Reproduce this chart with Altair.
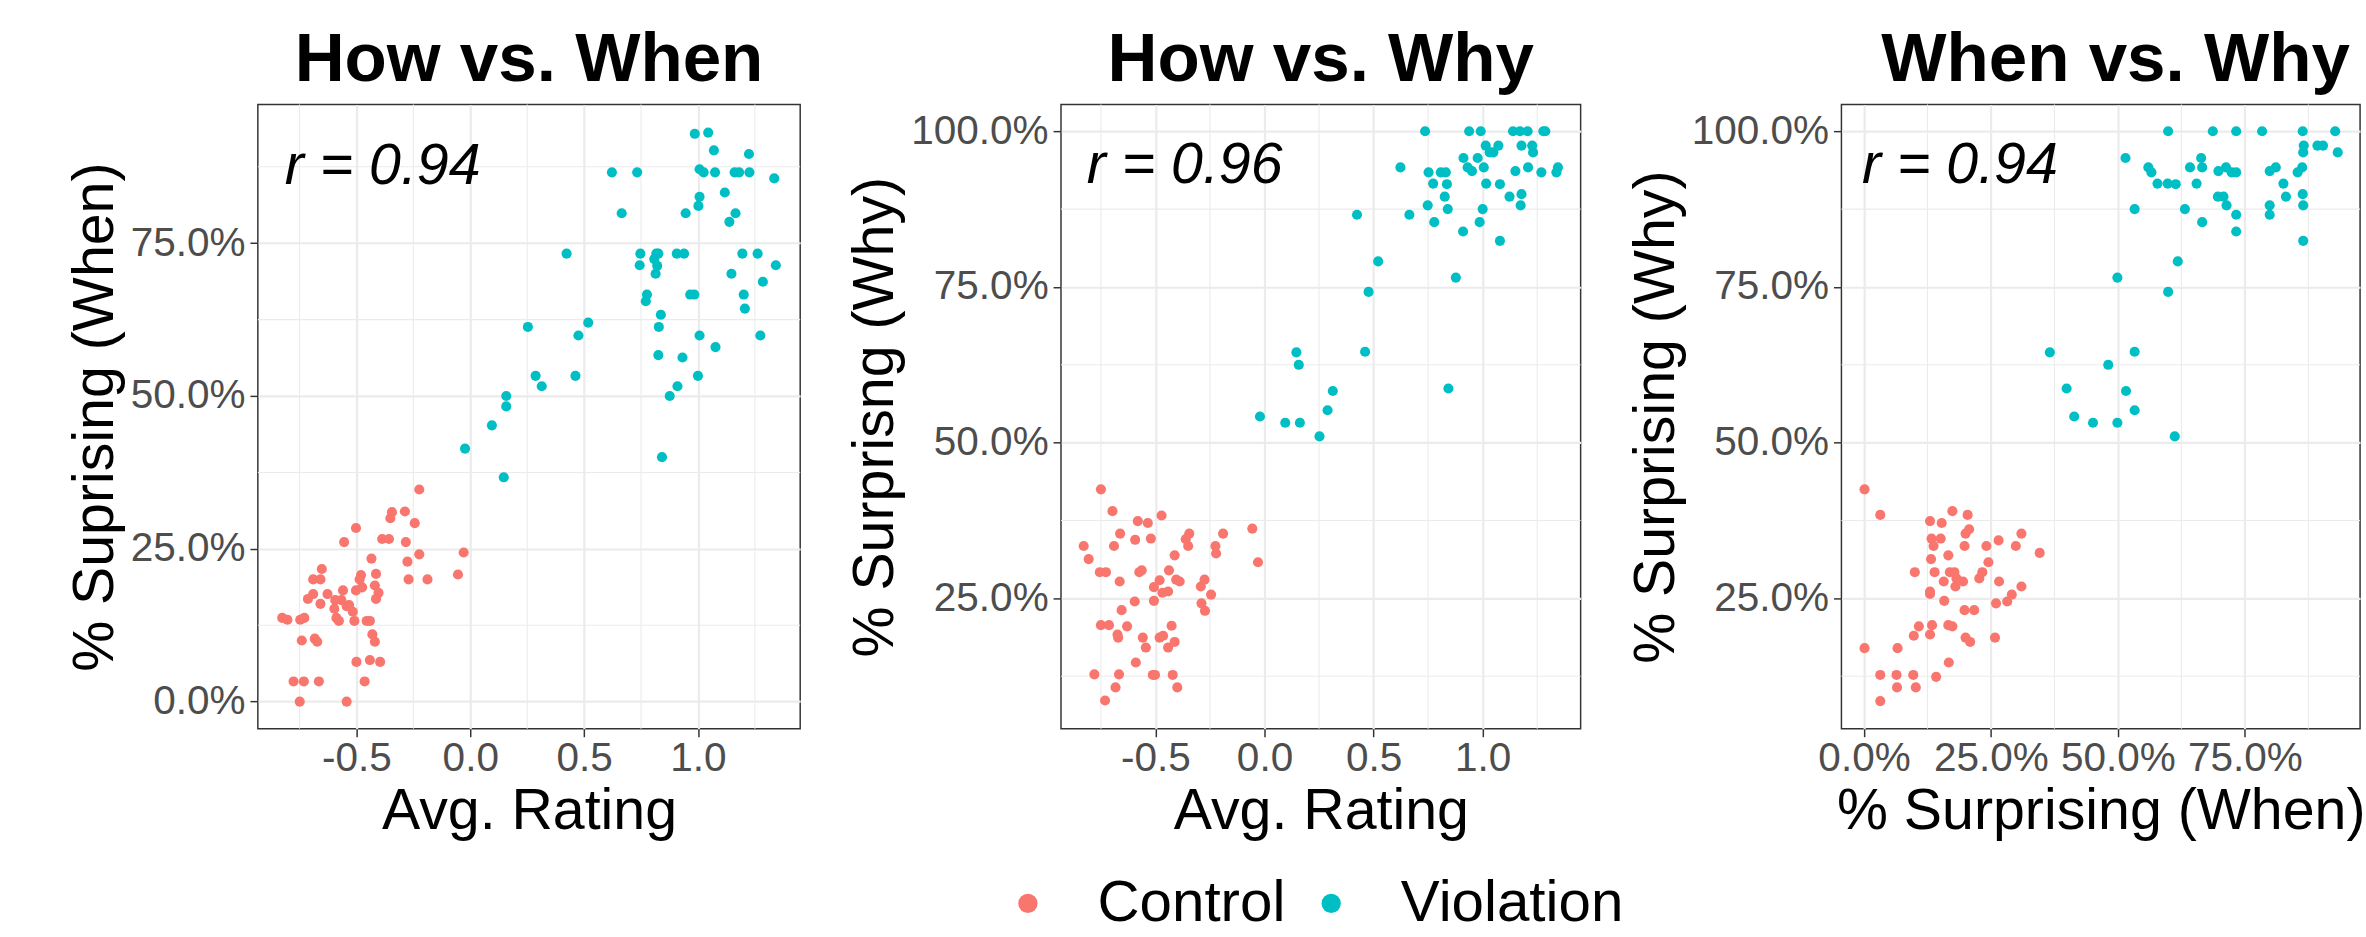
import altair as alt
import pandas as pd

# ---------------- data ----------------
# Panel 1: How (Avg. Rating) vs. When (% surprising)
p1_control_x = [-0.826, -0.803, -0.747, -0.729, -0.740, -0.683, -0.672, -0.776, -0.731, -0.665,
                -0.749, -0.543, -0.713, -0.690, -0.690, -0.658, -0.652, -0.658, -0.627, -0.593,
                -0.597, -0.588, -0.577, -0.566, -0.559, -0.554, -0.543, -0.532, -0.516, -0.509,
                -0.502, -0.502, -0.486, -0.480, -0.475, -0.455, -0.441, -0.434, -0.430, -0.419,
                -0.414, -0.419, -0.403, -0.414, -0.500, -0.441, -0.396, -0.464, -0.387, -0.357,
                -0.351, -0.344, -0.287, -0.283, -0.244, -0.276, -0.271, -0.224, -0.224, -0.188,
                -0.054, -0.029]
p1_control_y = [0.137, 0.134, 0.134, 0.137, 0.100, 0.103, 0.098, 0.033, 0.033, 0.033,
                0.000, 0.000, 0.168, 0.176, 0.200, 0.200, 0.217, 0.160, 0.176, 0.166,
                0.152, 0.137, 0.132, 0.166, 0.182, 0.261, 0.156, 0.158, 0.147, 0.132,
                0.284, 0.182, 0.200, 0.207, 0.187, 0.132, 0.132, 0.234, 0.110, 0.098,
                0.209, 0.190, 0.178, 0.168, 0.065, 0.068, 0.065, 0.033, 0.266, 0.266,
                0.300, 0.310, 0.311, 0.261, 0.292, 0.229, 0.200, 0.241, 0.347, 0.200,
                0.208, 0.244]
p1_violation_x = [-0.023, 0.095, 0.147, 0.158, 0.158, 0.253, 0.287, 0.314, 0.423, 0.462,
                  0.475, 0.518, 0.622, 0.665, 0.733, 0.747, 0.744, 0.776, 0.771, 0.808,
                  0.817, 0.826, 0.814, 0.821, 0.837, 0.828, 0.826, 0.842, 0.876, 0.907,
                  0.939, 0.910, 0.932, 0.946, 0.966, 0.984, 0.986, 1.000, 1.007, 1.002,
                  1.007, 1.007, 1.025, 1.045, 1.070, 1.075, 1.077, 1.118, 1.138, 1.147,
                  1.165, 1.161, 1.181, 1.195, 1.201, 1.206, 1.224, 1.226, 1.262, 1.274,
                  1.285, 1.335, 1.342]
p1_violation_y = [0.414, 0.452, 0.367, 0.500, 0.483, 0.613, 0.533, 0.516, 0.733, 0.533,
                  0.599, 0.620, 0.866, 0.799, 0.866, 0.733, 0.714, 0.666, 0.655, 0.724,
                  0.733, 0.733, 0.700, 0.713, 0.633, 0.613, 0.567, 0.400, 0.500, 0.733,
                  0.733, 0.516, 0.563, 0.799, 0.666, 0.666, 0.929, 0.533, 0.599, 0.811,
                  0.826, 0.871, 0.866, 0.931, 0.902, 0.866, 0.580, 0.833, 0.785, 0.700,
                  0.799, 0.866, 0.866, 0.733, 0.666, 0.643, 0.896, 0.866, 0.733, 0.599,
                  0.687, 0.856, 0.714]

# Panel 2: How (Avg. Rating) vs. Why (% surprising)
p2_control_x = [-0.829, -0.806, -0.750, -0.755, -0.727, -0.780, -0.750, -0.713, -0.731, -0.697,
                -0.690, -0.683, -0.674, -0.671, -0.664, -0.662, -0.655, -0.667, -0.630, -0.595,
                -0.593, -0.590, -0.581, -0.574, -0.563, -0.558, -0.544, -0.535, -0.521, -0.512,
                -0.502, -0.507, -0.507, -0.481, -0.472, -0.468, -0.481, -0.465, -0.442, -0.442,
                -0.438, -0.426, -0.421, -0.412, -0.412, -0.405, -0.400, -0.389, -0.361, -0.350,
                -0.345, -0.292, -0.289, -0.275, -0.273, -0.245, -0.225, -0.222, -0.190, -0.056,
                -0.030]
p2_control_y = [0.334, 0.313, 0.425, 0.292, 0.292, 0.128, 0.207, 0.207, 0.086, 0.390,
                0.334, 0.107, 0.192, 0.187, 0.277, 0.354, 0.231, 0.128, 0.205, 0.245,
                0.344, 0.147, 0.374, 0.292, 0.295, 0.187, 0.171, 0.371, 0.346, 0.127,
                0.127, 0.268, 0.246, 0.279, 0.383, 0.259, 0.187, 0.190, 0.261, 0.171,
                0.295, 0.206, 0.127, 0.319, 0.180, 0.280, 0.107, 0.277, 0.345, 0.334,
                0.354, 0.269, 0.242, 0.280, 0.230, 0.256, 0.334, 0.322, 0.354, 0.362,
                0.308]
p2_violation_x = [-0.021, 0.095, 0.162, 0.146, 0.157, 0.252, 0.289, 0.313, 0.424, 0.461,
                  0.477, 0.521, 0.623, 0.664, 0.736, 0.748, 0.752, 0.773, 0.778, 0.808,
                  0.826, 0.831, 0.836, 0.840, 0.843, 0.877, 0.910, 0.912, 0.931, 0.938,
                  0.951, 0.977, 0.986, 0.991, 1.000, 1.005, 1.014, 1.016, 1.032, 1.049,
                  1.072, 1.079, 1.079, 1.123, 1.139, 1.150, 1.171, 1.178, 1.178, 1.174,
                  1.206, 1.208, 1.227, 1.231, 1.269, 1.278, 1.287, 1.338, 1.345]
p2_violation_y = [0.542, 0.532, 0.532, 0.645, 0.625, 0.510, 0.552, 0.583, 0.866, 0.646,
                  0.742, 0.791, 0.942, 0.866, 1.000, 0.881, 0.934, 0.916, 0.854, 0.934,
                  0.895, 0.934, 0.915, 0.875, 0.587, 0.765, 0.839, 0.957, 0.942, 1.000,
                  0.936, 0.957, 0.854, 1.000, 0.875, 0.942, 0.977, 0.916, 0.966, 0.966,
                  0.977, 0.915, 0.824, 0.895, 1.000, 0.936, 1.000, 0.977, 0.899, 0.881,
                  1.000, 0.942, 0.977, 0.966, 0.934, 1.000, 1.000, 0.934, 0.942]

# Panel 3: When vs. Why (% surprising)
p3_control_x = [0.001, 0.001, 0.032, 0.032, 0.032, 0.064, 0.065, 0.066, 0.097, 0.098,
                0.100, 0.102, 0.108, 0.130, 0.130, 0.130, 0.130, 0.132, 0.133, 0.134,
                0.137, 0.139, 0.142, 0.151, 0.153, 0.157, 0.158, 0.166, 0.167, 0.166,
                0.169, 0.174, 0.174, 0.178, 0.180, 0.182, 0.195, 0.198, 0.200, 0.198,
                0.200, 0.204, 0.207, 0.209, 0.217, 0.227, 0.233, 0.241, 0.245, 0.258,
                0.260, 0.265, 0.266, 0.282, 0.291, 0.299, 0.310, 0.310, 0.346]
p3_control_y = [0.425, 0.170, 0.384, 0.127, 0.085, 0.127, 0.107, 0.170, 0.127, 0.190,
                0.292, 0.107, 0.205, 0.374, 0.261, 0.257, 0.192, 0.313, 0.346, 0.207,
                0.334, 0.292, 0.124, 0.346, 0.371, 0.277, 0.246, 0.319, 0.147, 0.207,
                0.292, 0.390, 0.205, 0.292, 0.269, 0.282, 0.277, 0.231, 0.187, 0.334,
                0.354, 0.384, 0.361, 0.180, 0.231, 0.282, 0.292, 0.334, 0.308, 0.187,
                0.242, 0.343, 0.277, 0.245, 0.256, 0.334, 0.354, 0.269, 0.323]
p3_violation_x = [0.366, 0.399, 0.414, 0.451, 0.481, 0.499, 0.499, 0.516, 0.515, 0.533,
                  0.533, 0.533, 0.560, 0.566, 0.578, 0.598, 0.599, 0.599, 0.612, 0.614,
                  0.618, 0.632, 0.642, 0.655, 0.664, 0.666, 0.666, 0.687, 0.698, 0.697,
                  0.708, 0.713, 0.714, 0.724, 0.733, 0.733, 0.733, 0.733, 0.784, 0.799,
                  0.811, 0.799, 0.799, 0.826, 0.831, 0.854, 0.863, 0.864, 0.866, 0.865,
                  0.864, 0.865, 0.865, 0.893, 0.904, 0.928, 0.933]
p3_violation_y = [0.645, 0.587, 0.542, 0.532, 0.625, 0.532, 0.765, 0.583, 0.957, 0.646,
                  0.552, 0.875, 0.942, 0.934, 0.916, 0.916, 1.000, 0.742, 0.510, 0.915,
                  0.791, 0.875, 0.942, 0.916, 0.957, 0.942, 0.854, 1.000, 0.936, 0.895,
                  0.895, 0.942, 0.881, 0.934, 0.934, 1.000, 0.866, 0.839, 1.000, 0.936,
                  0.942, 0.881, 0.866, 0.916, 0.895, 0.934, 0.942, 1.000, 0.977, 0.966,
                  0.899, 0.881, 0.824, 0.977, 0.977, 1.000, 0.966]

groups = ["Control", "Violation"]
group_colors = ["#F8766D", "#00BFC4"]

titles = ["How vs. When", "How vs. Why", "When vs. Why"]
title_dx = [0, 0, 15]
x_titles = ["Avg. Rating", "Avg. Rating", "% Surprising (When)"]
y_titles = ["% Suprising (When)", "% Surprisng (Why)", "% Surprising (Why)"]
r_labels = ["r = 0.94", "r = 0.96", "r = 0.94"]
r_x = [-0.815, -0.815, -0.004]
r_y = [0.875, 0.944, 0.944]

rating_ticks = [-0.5, 0.0, 0.5, 1.0]
rating_minor = [-0.75, -0.25, 0.25, 0.75, 1.25]
pct_ticks_when = [0.0, 0.25, 0.5, 0.75]
pct_ticks_why = [0.25, 0.5, 0.75, 1.0]
pct_minor = [0.125, 0.375, 0.625, 0.875]

rating_domain = [-0.933, 1.449]
when_domain = [-0.0445, 0.977]
why_domain = [0.0405, 1.043]

FONT = "Liberation Sans"
H = 632
widths = [549, 526, 525]


def frame(cx, cy, vx, vy):
    n1, n2 = len(cx), len(vx)
    return pd.DataFrame({
        "x": list(cx) + list(vx),
        "y": list(cy) + list(vy),
        "group": [groups[0]] * n1 + [groups[1]] * n2,
    })


rating_label = "datum.value < 0 ? '-' + format(-datum.value, '.1f') : format(datum.value, '.1f')"
pct_label = "format(datum.value * 100, '.1f') + '%'"


def panel(i, df, xdom, ydom, xticks, yticks, xminor, yminor, xlabel_expr):
    xscale = alt.Scale(domain=xdom, nice=False, zero=False)
    yscale = alt.Scale(domain=ydom, nice=False, zero=False)
    xaxis = alt.Axis(values=xticks, title=x_titles[i], labelExpr=xlabel_expr,
                     labelPadding=2, titlePadding=5)
    yaxis = alt.Axis(values=yticks, title=y_titles[i], labelExpr=pct_label,
                     labelPadding=5, titlePadding=6)

    vminor = alt.Chart(pd.DataFrame({"v": xminor})).mark_rule(
        color="#EBEBEB", strokeWidth=1.1
    ).encode(x=alt.X("v:Q", scale=xscale, axis=xaxis))
    hminor = alt.Chart(pd.DataFrame({"v": yminor})).mark_rule(
        color="#EBEBEB", strokeWidth=1.1
    ).encode(y=alt.Y("v:Q", scale=yscale, axis=yaxis))

    pts = alt.Chart(df).mark_circle(size=105, opacity=1).encode(
        x=alt.X("x:Q", scale=xscale, axis=xaxis),
        y=alt.Y("y:Q", scale=yscale, axis=yaxis),
        color=alt.Color(
            "group:N",
            scale=alt.Scale(domain=groups, range=group_colors),
            legend=alt.Legend(
                title=None, orient="none", direction="horizontal",
                legendX=750, legendY=779,
                symbolType="circle", symbolSize=380, symbolStrokeWidth=0,
                symbolOpacity=1,
                labelFont=FONT, labelFontSize=59, labelColor="black",
                labelLimit=600, labelOffset=41, columnPadding=16, padding=0,
            ),
        ),
    )
    rtxt = alt.Chart(pd.DataFrame({"x": [r_x[i]], "y": [r_y[i]], "t": [r_labels[i]]})).mark_text(
        align="left", baseline="middle", font=FONT, fontSize=58, fontStyle="italic", color="black"
    ).encode(
        x=alt.X("x:Q", scale=xscale, axis=xaxis),
        y=alt.Y("y:Q", scale=yscale, axis=yaxis),
        text="t:N",
    )
    return alt.layer(vminor, hminor, pts, rtxt).properties(
        width=widths[i], height=H,
        title=alt.TitleParams(
            titles[i], font=FONT, fontSize=70, fontWeight="bold", color="black",
            anchor="middle", frame="group", offset=-47, baseline="alphabetic",
            dx=title_dx[i],
        ),
    )


df1 = frame(p1_control_x, p1_control_y, p1_violation_x, p1_violation_y)
df2 = frame(p2_control_x, p2_control_y, p2_violation_x, p2_violation_y)
df3 = frame(p3_control_x, p3_control_y, p3_violation_x, p3_violation_y)

c1 = panel(0, df1, rating_domain, when_domain, rating_ticks, pct_ticks_when, rating_minor, pct_minor, rating_label)
c2 = panel(1, df2, rating_domain, why_domain, rating_ticks, pct_ticks_why, rating_minor, pct_minor, rating_label)
c3 = panel(2, df3, when_domain, why_domain, pct_ticks_when, pct_ticks_why, pct_minor, pct_minor, pct_label)

chart = alt.hconcat(c1, c2, c3, spacing=45).properties(
    padding={"left": 66, "top": 19, "right": 0, "bottom": 0},
    background="white",
).configure_view(
    stroke="#333333", strokeWidth=1.5
).configure_axis(
    labelFont=FONT, labelFontSize=41, labelColor="#4D4D4D",
    titleFont=FONT, titleFontSize=58, titleFontWeight="normal", titleColor="black",
    tickColor="#333333", tickSize=8, tickWidth=1.5, domain=False,
    gridColor="#EBEBEB", gridWidth=2.2,
)

chart.save("out.html", embed_options={"renderer": "svg", "actions": False})
